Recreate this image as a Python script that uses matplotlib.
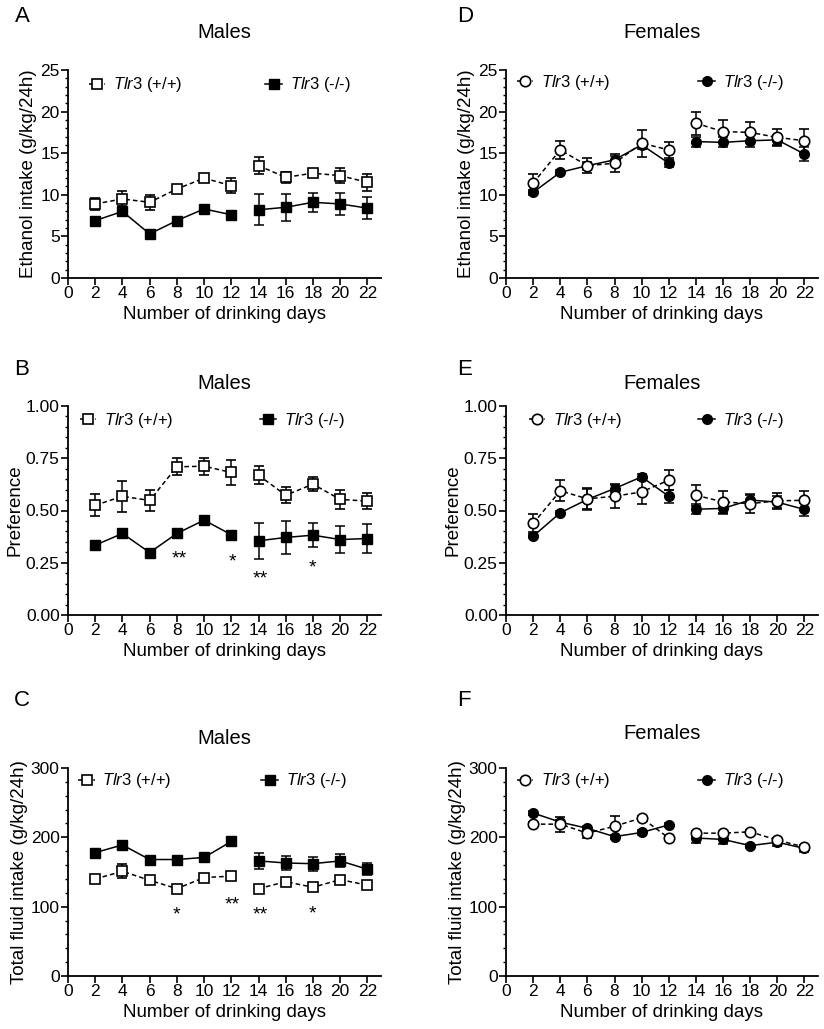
import numpy as np
import matplotlib.pyplot as plt
from matplotlib.ticker import MultipleLocator
from matplotlib.lines import Line2D
from matplotlib.legend import Legend
from matplotlib.transforms import offset_copy

plt.rcParams['font.family'] = ['Liberation Sans', 'DejaVu Sans']
plt.rcParams['mathtext.fontset'] = 'custom'
plt.rcParams['mathtext.rm'] = 'Liberation Sans'
plt.rcParams['mathtext.it'] = 'Liberation Sans:italic'

# --- данные ---
days = [2, 4, 6, 8, 10, 12, 14, 16, 18, 20, 22]

# Males: ethanol intake (g/kg/24h)
m_etoh_wt = [8.9, 9.5, 9.1, 10.7, 12.0, 11.1, 13.5, 12.1, 12.6, 12.3, 11.5]
m_etoh_wt_err = [0.7, 0.9, 0.9, 0.3, 0.3, 0.9, 1.0, 0.7, 0.3, 0.9, 1.0]
m_etoh_ko = [6.9, 8.0, 5.3, 6.9, 8.3, 7.6, 8.2, 8.5, 9.1, 8.9, 8.4]
m_etoh_ko_err = [0.3, 0.3, 0.3, 0.3, 0.3, 0.3, 1.85, 1.6, 1.15, 1.35, 1.3]

# Males: preference
m_pref_wt = [0.525, 0.568, 0.548, 0.709, 0.712, 0.682, 0.669, 0.573, 0.626, 0.553, 0.545]
m_pref_wt_err = [0.053, 0.073, 0.052, 0.04, 0.04, 0.062, 0.043, 0.038, 0.033, 0.045, 0.04]
m_pref_ko = [0.334, 0.390, 0.299, 0.390, 0.454, 0.384, 0.355, 0.371, 0.382, 0.361, 0.366]
m_pref_ko_err = [0.01, 0.01, 0.01, 0.01, 0.01, 0.01, 0.086, 0.078, 0.059, 0.065, 0.07]

# Males: total fluid intake (g/kg/24h)
m_fluid_wt = [140, 151, 138, 126, 142, 144, 126, 136, 128, 139, 131]
m_fluid_wt_err = [3, 10, 3, 3, 4, 5, 3, 4, 4, 4, 4]
m_fluid_ko = [178, 189, 168, 168, 171, 194, 166, 163, 162, 166, 154]
m_fluid_ko_err = [3, 3, 3, 3, 3, 3, 11.5, 10, 10, 9.5, 9]

# Females: ethanol intake
f_etoh_wt = [11.4, 15.4, 13.5, 13.8, 16.2, 15.4, 18.6, 17.6, 17.5, 16.9, 16.5]
f_etoh_wt_err = [1.1, 1.1, 0.9, 1.1, 1.6, 1.0, 1.4, 1.4, 1.25, 1.0, 1.4]
f_etoh_ko = [10.3, 12.7, 13.5, 14.2, 16.0, 13.8, 16.4, 16.3, 16.5, 16.6, 14.9]
f_etoh_ko_err = [0.3, 0.3, 0.5, 0.5, 0.5, 0.4, 0.6, 0.6, 0.7, 0.6, 0.85]

# Females: preference
f_pref_wt = [0.438, 0.594, 0.556, 0.568, 0.589, 0.645, 0.573, 0.541, 0.533, 0.546, 0.549]
f_pref_wt_err = [0.043, 0.05, 0.05, 0.057, 0.056, 0.048, 0.05, 0.053, 0.043, 0.04, 0.045]
f_pref_ko = [0.377, 0.489, 0.553, 0.605, 0.661, 0.568, 0.506, 0.510, 0.550, 0.540, 0.505]
f_pref_ko_err = [0.01, 0.01, 0.05, 0.015, 0.015, 0.03, 0.025, 0.025, 0.03, 0.03, 0.03]

# Females: total fluid intake
f_fluid_wt = [219, 219, 206, 216, 228, 199, 206, 206, 208, 196, 186]
f_fluid_wt_err = [3, 11, 7, 15, 3, 3, 3, 3, 3, 3, 3]
f_fluid_ko = [235, 222, 213, 201, 207, 218, 199, 197, 188, 193, 184]
f_fluid_ko_err = [3, 3, 3, 3, 3, 3, 7, 7, 3, 5, 5]

# значимость (день, y, метка)
m_pref_stars = [(8.2, 0.299, '**'), (12.05, 0.287, '*'), (14.1, 0.204, '**'), (18.0, 0.255, '*')]
m_fluid_stars = [(8.0, 97, '*'), (12.05, 111.5, '**'), (14.1, 97, '**'), (18.0, 99.5, '*')]


def draw_panel(ax, wt, wt_err, ko, ko_err, marker, ylim, major, minor,
               ylabel, title, title_y, leg_x, leg_y, stars=None):
    x = np.array(days)
    split = 6  # разрыв между 12 и 14 днём
    for vals, ls in ((ko, '-'), (wt, (0, (3, 2)))):
        v = np.array(vals)
        ax.plot(x[:split], v[:split], color='black', lw=1.1, ls=ls, zorder=2)
        ax.plot(x[split:], v[split:], color='black', lw=1.1, ls=ls, zorder=2)
    ax.errorbar(x, ko, yerr=ko_err, fmt=marker, ms=7, mfc='black', mec='black',
                ecolor='black', elinewidth=1.1, capsize=3.5, capthick=1.1, zorder=3)
    ax.errorbar(x, wt, yerr=wt_err, fmt=marker, ms=7.5, mfc='white', mec='black', mew=1.2,
                ecolor='black', elinewidth=1.1, capsize=3.5, capthick=1.1, zorder=4)

    ax.set_xlim(0, 23)
    ax.set_ylim(*ylim)
    ax.set_xticks(range(0, 23, 2))
    ax.yaxis.set_major_locator(MultipleLocator(major))
    ax.yaxis.set_minor_locator(MultipleLocator(minor))
    if major < 1:
        ax.yaxis.set_major_formatter(plt.FormatStrFormatter('%.2f'))
    ax.tick_params(axis='both', which='major', length=5, width=1.2, labelsize=12.5, pad=1)
    ax.tick_params(axis='y', which='minor', length=2.5, width=1.0)
    for s in ('top', 'right'):
        ax.spines[s].set_visible(False)
    for s in ('left', 'bottom'):
        ax.spines[s].set_linewidth(1.3)
    ax.set_xlabel('Number of drinking days', fontsize=13.5, labelpad=3.5)
    ax.set_ylabel(ylabel, fontsize=13.5, labelpad=2)
    ax.text(0.5, title_y, title, transform=ax.transAxes, ha='center', va='center', fontsize=14.5)

    h_wt = Line2D([], [], color='black', lw=1.1, ls=(0, (3, 2)), marker=marker, ms=7.5,
                  mfc='white', mec='black', mew=1.2)
    h_ko = Line2D([], [], color='black', lw=1.1, marker=marker, ms=7, mfc='black', mec='black')
    half = 8.5 / 313
    for h, lab, lx in ((h_wt, r'$\mathit{Tlr3}$ (+/+)', leg_x[0]), (h_ko, r'$\mathit{Tlr3}$ (-/-)', leg_x[1])):
        lg = Legend(ax, [h], [lab], loc='center left', bbox_to_anchor=(lx - half, leg_y),
                    frameon=False, fontsize=12, handlelength=1.0, handletextpad=0.45,
                    borderpad=0, borderaxespad=0, numpoints=1)
        ax.add_artist(lg)

    if stars:
        tr = offset_copy(ax.transData, fig=ax.figure, y=-8, units='points')
        for sx, sy, lab in stars:
            ax.text(sx, sy, lab, transform=tr, ha='center', va='baseline', fontsize=14)


fig = plt.figure(figsize=(8.24, 10.29), dpi=100)
W, H = 824, 1029


def add_axes(left, right, top, bottom):
    return fig.add_axes([left / W, 1 - bottom / H, (right - left) / W, (bottom - top) / H])


axA = add_axes(68, 381, 70, 278)
axB = add_axes(68, 381, 406, 615)
axC = add_axes(68, 381, 768, 976)
axD = add_axes(506, 818, 70, 278)
axE = add_axes(506, 818, 406, 615)
axF = add_axes(506, 818, 768, 976)

draw_panel(axA, m_etoh_wt, m_etoh_wt_err, m_etoh_ko, m_etoh_ko_err, 's', (0, 25), 5, 1,
           'Ethanol intake (g/kg/24h)', 'Males', 1.178, (0.093, 0.658), 0.928)
draw_panel(axB, m_pref_wt, m_pref_wt_err, m_pref_ko, m_pref_ko_err, 's', (0, 1), 0.25, 0.05,
           'Preference', 'Males', 1.11, (0.064, 0.64), 0.933, m_pref_stars)
draw_panel(axC, m_fluid_wt, m_fluid_wt_err, m_fluid_ko, m_fluid_ko_err, 's', (0, 300), 100, 20,
           'Total fluid intake (g/kg/24h)', 'Males', 1.144, (0.06, 0.645), 0.9375, m_fluid_stars)
draw_panel(axD, f_etoh_wt, f_etoh_wt_err, f_etoh_ko, f_etoh_ko_err, 'o', (0, 25), 5, 1,
           'Ethanol intake (g/kg/24h)', 'Females', 1.178, (0.061, 0.644), 0.942)
draw_panel(axE, f_pref_wt, f_pref_wt_err, f_pref_ko, f_pref_ko_err, 'o', (0, 1), 0.25, 0.05,
           'Preference', 'Females', 1.11, (0.10, 0.644), 0.933)
draw_panel(axF, f_fluid_wt, f_fluid_wt_err, f_fluid_ko, f_fluid_ko_err, 'o', (0, 300), 100, 20,
           'Total fluid intake (g/kg/24h)', 'Females', 1.168, (0.061, 0.644), 0.9375)

for lab, px, py in (('A', 22, 17), ('B', 22, 370), ('C', 22, 700),
                    ('D', 465, 17), ('E', 465, 370), ('F', 464, 700)):
    fig.text(px / W, 1 - py / H, lab, ha='center', va='center', fontsize=16)

fig.savefig('out.png', dpi=100)
